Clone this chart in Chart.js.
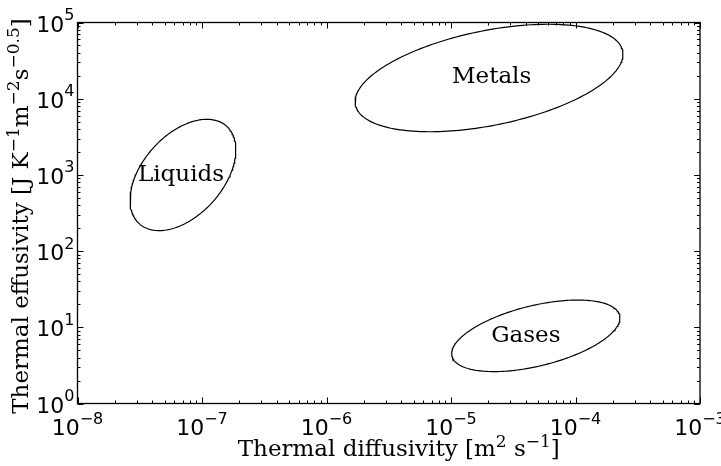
<!DOCTYPE html>
<html>
<head>
<meta charset="utf-8">
<script src="https://cdn.jsdelivr.net/npm/chart.js@4"></script>
<style>
  body { margin: 0; background: #fff; }
  #caixa { width: 721px; height: 466px; }
</style>
</head>
<body>
<div id="caixa"><canvas id="grafico"></canvas></div>
<script>
// regioes (elipses desenhadas em espaco log-log)
const regioes = ['Metals', 'Liquids', 'Gases'];
const centroDifusividade = [2.02e-5, 7.03e-8, 4.80e-5];
const centroEfusividade = [1.87e4, 998, 7.73];
const semiEixoMaior = [1.139, 0.763, 0.732];   // em decadas
const semiEixoMenor = [0.598, 0.363, 0.376];
const inclinacao = [22.7, 70.8, 26.6];         // graus
const rotuloDifusividade = [2.12e-5, 6.78e-8, 3.99e-5];
const rotuloEfusividade = [1.90e4, 998, 7.73];

// ticks
const ticksX = [1e-8, 1e-7, 1e-6, 1e-5, 1e-4, 1e-3];
const expoentesX = ['\u22128', '\u22127', '\u22126', '\u22125', '\u22124', '\u22123'];
const ticksY = [1, 10, 100, 1e3, 1e4, 1e5];
const expoentesY = ['0', '1', '2', '3', '4', '5'];

function contornoElipse(i) {
    var pontos = [];
    var cx = Math.log10(centroDifusividade[i]);
    var cy = Math.log10(centroEfusividade[i]);
    var ang = inclinacao[i] * Math.PI / 180;
    for (var k = 0; k <= 200; k++) {
        var t = k / 200 * 2 * Math.PI;
        var u = semiEixoMaior[i] * Math.cos(t);
        var v = semiEixoMenor[i] * Math.sin(t);
        pontos.push({
            x: Math.pow(10, cx + u * Math.cos(ang) - v * Math.sin(ang)),
            y: Math.pow(10, cy + u * Math.sin(ang) + v * Math.cos(ang))
        });
    }
    return pontos;
}

function menores(ticks) {
    var lista = [];
    for (var i = 0; i < ticks.length - 1; i++) {
        for (var m = 2; m <= 9; m++) lista.push(ticks[i] * m);
    }
    return lista;
}

function desenharSegmentos(ctx, segs, fonteNormal, fonteSup, subida) {
    var total = 0;
    segs.forEach(s => {
        ctx.font = s[1] ? fonteSup : fonteNormal;
        total += ctx.measureText(s[0]).width;
    });
    var x = -total / 2;
    segs.forEach(s => {
        ctx.font = s[1] ? fonteSup : fonteNormal;
        ctx.fillText(s[0], x, s[1] ? -subida : 0);
        x += ctx.measureText(s[0]).width;
    });
}

const desenhoEixos = {
    id: 'desenhoEixos',
    beforeDraw(chart) {
        var ctx = chart.ctx;
        ctx.save();
        ctx.fillStyle = '#fff';
        ctx.fillRect(0, 0, chart.width, chart.height);
        ctx.restore();
    },
    afterDraw(chart) {
        var ctx = chart.ctx;
        var a = chart.chartArea;
        var sx = chart.scales.x, sy = chart.scales.y;
        ctx.save();
        ctx.strokeStyle = '#000';
        ctx.fillStyle = '#000';

        ctx.lineWidth = 1;
        function marcaX(v, len) {
            var p = Math.round(sx.getPixelForValue(v)) + 0.5;
            ctx.beginPath();
            ctx.moveTo(p, a.bottom); ctx.lineTo(p, a.bottom - len);
            ctx.moveTo(p, a.top); ctx.lineTo(p, a.top + len);
            ctx.stroke();
        }
        function marcaY(v, len) {
            var p = Math.round(sy.getPixelForValue(v)) + 0.5;
            ctx.beginPath();
            ctx.moveTo(a.left, p); ctx.lineTo(a.left + len, p);
            ctx.moveTo(a.right, p); ctx.lineTo(a.right - len, p);
            ctx.stroke();
        }
        ticksX.forEach(v => marcaX(v, 6));
        menores(ticksX).forEach(v => marcaX(v, 3));
        ticksY.forEach(v => marcaY(v, 6));
        menores(ticksY).forEach(v => marcaY(v, 3));

        ctx.lineWidth = 1.3;
        ctx.strokeRect(a.left, a.top, a.right - a.left, a.bottom - a.top);

        // rotulos dos ticks
        var fBase = '22px "DejaVu Sans"', fExp = '16px "DejaVu Sans"';
        ctx.textBaseline = 'alphabetic';
        ctx.textAlign = 'left';
        ticksX.forEach((v, i) => {
            ctx.font = fBase; var w1 = ctx.measureText('10').width;
            ctx.font = fExp; var w2 = ctx.measureText(expoentesX[i]).width;
            var x0 = sx.getPixelForValue(v) - (w1 + w2) / 2;
            var base = a.bottom + 31.5;
            ctx.font = fBase; ctx.fillText('10', x0, base);
            ctx.font = fExp; ctx.fillText(expoentesX[i], x0 + w1, base - 11.5);
        });
        ticksY.forEach((v, i) => {
            ctx.font = fBase; var w1 = ctx.measureText('10').width;
            ctx.font = fExp; var w2 = ctx.measureText(expoentesY[i]).width;
            var x0 = a.left - 3 - (w1 + w2);
            var base = sy.getPixelForValue(v) + 9;
            ctx.font = fBase; ctx.fillText('10', x0, base);
            ctx.font = fExp; ctx.fillText(expoentesY[i], x0 + w1, base - 11.5);
        });

        // titulos dos eixos
        var fTit = '23px "DejaVu Serif"', fTitSup = '17px "DejaVu Serif"';
        ctx.save();
        ctx.translate((a.left + a.right) / 2 + 10, 456);
        desenharSegmentos(ctx, [['Thermal diffusivity [m', false], ['2', true], [' s', false], ['\u22121', true], [']', false]], fTit, fTitSup, 9);
        ctx.restore();

        ctx.save();
        ctx.translate(28, (a.top + a.bottom) / 2 + 3);
        ctx.rotate(-Math.PI / 2);
        desenharSegmentos(ctx, [['Thermal effusivity [J K', false], ['\u22121', true], ['m', false], ['\u22122', true], ['s', false], ['\u22120.5', true], [']', false]], fTit, fTitSup, 9);
        ctx.restore();

        // nomes das regioes
        ctx.font = '23px "DejaVu Serif"';
        ctx.textAlign = 'center';
        ctx.textBaseline = 'middle';
        regioes.forEach((nome, i) => {
            ctx.fillText(nome, sx.getPixelForValue(rotuloDifusividade[i]), sy.getPixelForValue(rotuloEfusividade[i]));
        });
        ctx.restore();
    }
};

var datasets = regioes.map((nome, i) => ({
    label: nome,
    data: contornoElipse(i),
    showLine: true,
    fill: false,
    borderColor: '#000',
    borderWidth: 1.2,
    pointRadius: 0,
    tension: 0
}));

new Chart(document.getElementById('grafico').getContext('2d'), {
    type: 'scatter',
    data: { datasets: datasets },
    options: {
        responsive: true,
        maintainAspectRatio: false,
        animation: false,
        layout: { padding: { left: 77.5, right: 21, top: 22.5, bottom: 62.5 } },
        scales: {
            x: { type: 'logarithmic', min: 1e-8, max: 1e-3, display: false },
            y: { type: 'logarithmic', min: 1, max: 1e5, display: false }
        },
        plugins: {
            legend: { display: false },
            tooltip: { enabled: false }
        }
    },
    plugins: [desenhoEixos]
});
</script>
</body>
</html>
